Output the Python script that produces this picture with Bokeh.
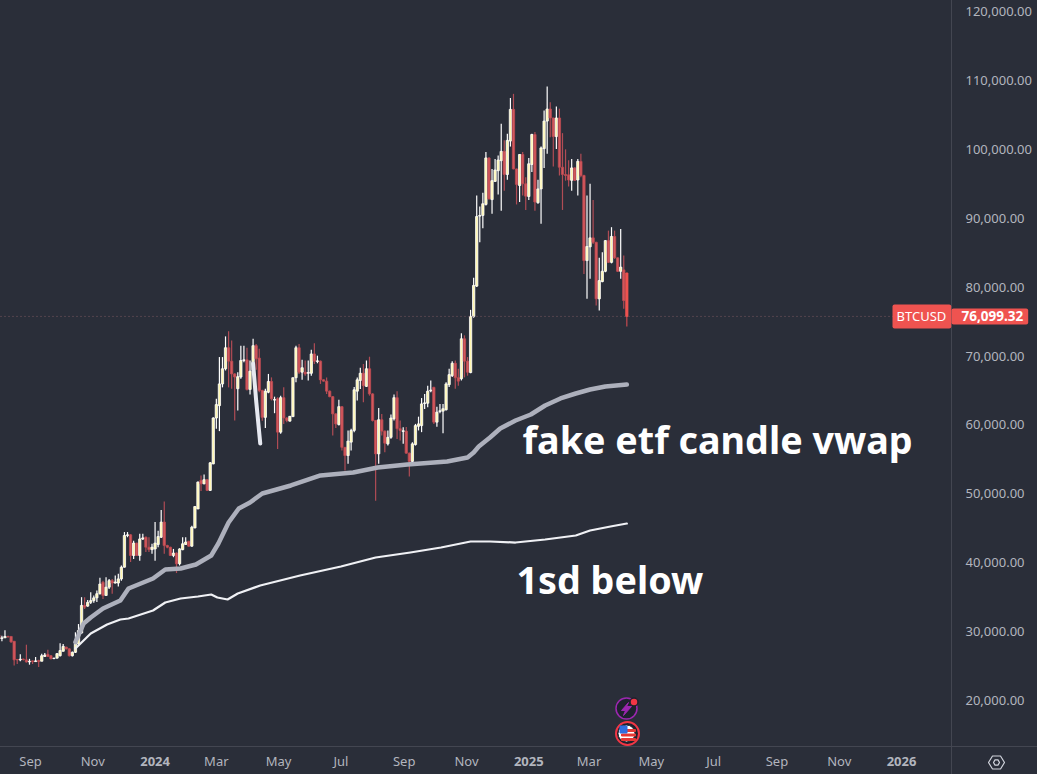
from bokeh.plotting import figure
from bokeh.embed import file_html
from bokeh.resources import INLINE
from bokeh.models import Range1d, FixedTicker, Label, LinearAxis, DatetimeAxis
from bokeh.core.properties import value
import numpy as np
import pandas as pd

# ---- chart values (thousand USD), 3-day candles -------------------------
opens = [29.5,29.0,29.1,29.3,29.3,28.6,25.95,25.9,26.0,25.9,
 25.6,25.75,25.65,25.8,25.7,26.4,26.7,26.5,26.1,26.15,
 26.5,27.15,27.75,27.5,26.5,27.0,28.2,29.8,33.8,33.7,
 34.25,34.5,34.9,35.5,37.15,35.25,36.45,37.4,37.05,37.05,
 37.65,39.35,43.95,44.05,41.05,42.85,41.05,43.45,43.7,42.25,
 41.9,42.0,42.65,43.7,45.9,42.5,42.25,41.05,41.4,39.85,
 41.9,42.65,43.1,42.4,45.05,47.8,51.95,51.45,52.05,50.5,
 54.35,61.0,62.8,65.95,68.15,71.2,69.25,67.4,65.25,66.95,
 69.35,69.45,65.15,67.9,71.5,69.7,65.0,61.1,64.75,66.3,
 63.6,63.8,58.95,63.95,61.0,60.55,61.2,66.85,71.2,67.65,
 67.65,67.5,67.5,70.3,69.2,69.25,66.55,66.35,64.9,64.1,
 61.6,60.05,62.65,56.75,55.55,57.5,59.2,64.9,66.45,67.5,
 65.6,68.15,64.5,60.65,55.8,60.75,59.1,57.25,58.2,60.9,
 63.95,59.45,59.05,59.1,55.9,54.7,57.15,59.8,59.9,63.1,
 63.15,64.95,65.45,60.4,61.95,62.0,62.2,65.85,67.15,68.95,
 66.85,66.7,72.5,69.25,67.6,75.75,80.15,90.3,90.4,92.0,
 98.75,92.7,95.35,96.9,98.35,99.7,96.35,101.2,105.8,97.15,
 94.75,99.25,95.0,93.15,97.8,102.15,92.25,94.25,100.1,104.1,
 105.85,104.55,101.85,104.55,97.4,96.35,96.3,95.5,97.3,95.55,
 98.25,96.2,83.85,85.85,87.15,86.5,78.3,80.8,82.3,86.75,
 83.6,87.35,84.25,82.3,82.5,82.05]
highs = [29.8,29.4,30.2,29.4,29.3,28.6,26.0,26.7,26.1,28.1,
 26.05,25.8,26.3,25.9,26.8,26.9,27.35,26.6,26.2,26.9,
 28.3,28.2,27.8,27.6,27.1,29.9,31.1,35.0,35.0,34.6,
 35.7,35.25,35.95,37.8,37.4,37.9,37.65,37.65,38.15,38.4,
 39.6,44.45,44.45,44.15,43.2,42.9,44.2,44.2,43.8,43.7,
 42.75,45.9,44.65,47.65,48.9,42.6,42.3,42.0,41.5,42.1,
 43.7,43.7,43.2,45.35,48.2,51.8,52.65,52.8,52.1,54.6,
 61.1,63.8,69.85,69.85,72.85,73.6,72.25,67.5,67.65,71.5,
 71.5,71.2,69.35,72.5,71.75,71.05,65.1,65.25,67.4,66.9,
 64.1,64.0,64.25,65.45,61.1,61.3,66.9,71.5,71.75,69.45,
 69.35,69.35,70.9,71.85,70.05,69.35,66.6,66.9,65.0,64.2,
 61.7,63.65,62.7,56.8,59.2,59.45,65.5,66.9,68.3,68.85,
 69.35,69.9,64.6,60.7,62.45,61.6,59.2,59.2,61.5,64.4,
 64.9,60.65,59.65,59.7,56.0,57.5,60.15,61.2,63.9,64.5,
 65.7,66.45,65.55,62.65,63.05,63.05,66.2,68.15,69.25,69.35,
 68.15,73.3,73.0,69.85,76.7,81.35,93.3,91.7,93.7,99.6,
 98.8,97.15,98.6,99.1,103.7,101.3,102.25,107.45,108.05,97.2,
 99.3,99.6,95.95,98.75,102.25,102.5,95.6,100.4,105.65,109.1,
 106.85,104.6,106.2,105.9,102.35,100.0,98.4,98.6,97.4,98.6,
 99.35,96.3,93.3,95.0,92.65,86.6,84.25,85.05,86.8,88.2,
 88.7,88.2,84.3,88.45,84.6,82.1]
lows = [28.7,28.6,29.1,29.1,28.4,25.1,25.3,25.7,25.8,25.5,
 25.2,25.3,25.6,24.85,25.7,26.3,26.3,26.0,26.0,26.1,
 26.4,27.1,27.4,26.4,26.4,26.9,28.1,29.7,33.3,33.6,
 34.0,34.2,34.3,35.4,34.75,35.2,36.2,35.5,37.0,36.55,
 37.4,39.3,43.7,40.1,40.55,41.0,40.3,43.3,41.55,41.55,
 41.3,40.3,42.25,43.6,41.3,42.1,41.0,40.8,38.5,39.6,
 41.8,42.6,42.3,42.3,45.0,47.8,50.4,51.4,50.4,50.4,
 54.3,59.45,59.1,65.45,67.9,65.45,65.25,60.65,62.1,66.7,
 69.1,65.0,64.4,67.8,68.0,64.75,60.6,59.55,64.6,63.55,
 61.7,56.5,58.7,60.15,60.4,60.5,61.2,66.2,67.4,66.55,
 67.15,66.45,67.15,68.85,68.95,65.95,66.3,64.5,64.0,58.45,
 59.55,59.9,56.3,53.4,54.35,56.3,58.95,63.55,65.2,63.3,
 65.5,64.25,60.5,49.0,54.35,58.45,56.05,57.0,58.0,60.65,
 57.95,57.75,57.25,55.8,52.5,54.6,57.0,59.2,58.95,62.3,
 62.55,64.75,60.15,59.75,61.7,58.8,62.1,65.5,66.95,65.25,
 65.7,66.45,66.9,67.15,67.5,75.55,80.0,86.5,88.55,91.85,
 92.7,90.65,95.25,93.45,91.1,94.0,95.6,100.4,97.1,92.0,
 92.35,93.3,91.2,92.65,96.7,91.1,92.1,89.2,97.3,99.35,
 101.75,97.5,100.05,96.2,91.2,95.45,94.6,94.0,95.4,93.3,
 95.95,81.9,78.3,81.2,86.25,77.35,76.6,80.7,82.15,83.5,
 83.45,84.1,82.2,81.2,76.85,74.3]
closes = [28.95,29.1,29.3,29.25,28.5,25.9,25.9,26.0,25.95,25.6,
 25.7,25.65,25.75,25.65,26.5,26.6,26.4,26.05,26.15,26.8,
 27.25,27.85,27.5,26.5,27.0,28.2,30.15,33.8,33.55,34.25,
 34.5,34.9,35.5,36.9,35.25,36.45,37.4,37.05,37.2,37.65,
 39.35,43.95,44.05,41.05,42.85,41.05,43.45,43.6,42.25,41.9,
 42.25,42.85,43.8,45.9,42.5,42.25,41.05,41.4,39.85,42.0,
 42.75,43.0,42.4,45.15,48.15,51.7,51.45,52.05,50.5,54.5,
 61.0,62.95,65.95,68.15,71.2,69.25,67.4,66.95,67.0,69.35,
 69.45,65.15,67.8,71.5,69.6,65.0,61.1,64.9,66.3,63.8,
 63.7,58.95,63.95,61.0,60.65,61.25,66.85,71.2,67.65,68.3,
 67.4,67.6,70.3,69.25,69.3,66.55,66.35,64.9,64.1,61.6,
 60.15,62.65,56.75,55.55,57.65,59.2,65.1,66.55,67.5,65.7,
 68.15,64.5,60.65,55.8,60.75,59.1,57.35,58.2,61.0,63.95,
 59.45,59.2,59.15,55.9,54.7,57.25,59.9,60.15,63.05,63.2,
 64.9,65.05,60.4,61.85,62.05,62.35,65.95,67.3,68.95,66.85,
 66.35,72.5,69.25,67.65,75.75,80.25,90.25,90.4,92.1,98.75,
 92.8,95.45,97.0,98.45,99.7,96.35,101.3,105.8,97.15,94.9,
 99.25,95.0,93.2,97.9,102.15,92.35,94.25,100.2,104.1,105.85,
 104.55,101.85,104.55,97.4,96.35,96.2,95.55,97.3,95.5,98.25,
 96.2,83.85,85.9,87.15,86.5,78.3,80.95,82.3,86.75,83.6,
 87.35,84.25,82.3,82.9,78.05,75.75]

vwap_dates = ["2023-10-15","2023-10-23","2023-10-30","2023-11-11","2023-11-28","2023-12-06","2023-12-18","2023-12-30",
 "2024-01-11","2024-01-26","2024-02-10","2024-02-25","2024-03-03","2024-03-13","2024-03-23","2024-04-03","2024-04-15",
 "2024-05-13","2024-06-11","2024-07-13","2024-08-06","2024-09-04","2024-10-13","2024-11-02","2024-11-08","2024-11-13",
 "2024-11-24","2024-12-04","2024-12-19","2025-01-03","2025-01-17","2025-02-01","2025-02-16","2025-03-02","2025-03-17","2025-04-07"]
vwap_vals = [28.46,31.18,32.05,33.36,34.52,36.26,36.98,37.71,39.01,39.16,39.74,41.05,42.79,45.84,47.87,48.74,50.05,
 51.21,52.66,53.09,53.82,54.25,54.69,55.27,56.0,56.87,58.17,59.48,60.64,61.51,62.82,63.84,64.56,65.14,65.58,65.87]

sd_dates = ["2023-10-15","2023-10-20","2023-10-30","2023-11-15","2023-11-28","2023-12-06","2023-12-30","2024-01-11",
 "2024-01-26","2024-02-12","2024-02-25","2024-03-02","2024-03-12","2024-03-22","2024-04-13","2024-05-22","2024-07-01",
 "2024-08-04","2024-09-07","2024-10-07","2024-11-05","2024-11-24","2024-12-19","2025-01-17","2025-02-16","2025-03-02","2025-03-22","2025-04-07"]
sd_vals = [27.55,28.27,29.73,31.03,31.76,31.9,33.06,34.23,34.81,35.1,35.39,34.95,34.66,35.53,36.69,38.15,39.45,
 40.76,41.48,42.21,43.08,43.08,42.93,43.37,43.95,44.67,45.26,45.69]

stroke_dates = ["2024-04-06", "2024-04-09", "2024-04-13"]
stroke_vals = [68.9, 63.5, 57.3]

last_price_level = 75.75
last_price_text = "76,099.32"
symbol = "BTCUSD"
y_ticks = [20,30,40,50,60,70,80,90,100,110,120]
month_ticks = ["2023-09-01","2023-11-01","2024-03-01","2024-05-01","2024-07-01","2024-09-01","2024-11-01",
               "2025-03-01","2025-05-01","2025-07-01","2025-09-01","2025-11-01"]
month_labels = ["Sep","Nov","Mar","May","Jul","Sep","Nov","Mar","May","Jul","Sep","Nov"]
year_ticks = ["2024-01-01","2025-01-01","2026-01-01"]
year_labels = ["2024","2025","2026"]

# ---- layout: the frame fills the canvas, the axes sit at fixed places in it --------
W, H, FW, FH = 1037, 774, 951, 746
BG, AXC, TXT = "#2a2e39", "#434651", "#b2b5be"
FONT = "Noto Sans"
PX_DAY = 1.0211
t0 = pd.Timestamp("2023-09-01") - pd.Timedelta(days=30/PX_DAY)
ms = lambda d: pd.Timestamp(d).value / 1e6
DAY = 86400000.0

def xp(px):  # pixel -> data, for decoration only
    return ms(t0) + px/PX_DAY*DAY
def yp(py):
    return 121.6 - 0.14514*py

p = figure(width=W+1, height=H+1, output_backend="svg", toolbar_location=None,
           x_axis_location=None, y_axis_location=None,
           x_range=Range1d(xp(-1), xp(W)), y_range=Range1d(yp(H), yp(-1)),
           background_fill_color=BG, border_fill_color=BG,
           min_border_left=0, min_border_top=0, min_border_right=0, min_border_bottom=0,
           outline_line_color=None)
p.margin = (-1, 0, 0, -1)
p.grid.visible = False

# axes
ya = LinearAxis(fixed_location=xp(FW), ticker=FixedTicker(ticks=y_ticks))
ya.major_label_overrides = {v: f"{v*1000:,.2f}" for v in y_ticks}
xa = DatetimeAxis(fixed_location=yp(FH))
tick_pos = [ms(d) for d in month_ticks]
xa.ticker = FixedTicker(ticks=tick_pos)
xa.major_label_overrides = {t: l for t, l in zip(tick_pos, month_labels)}
for ax, standoff in ((ya, 14), (xa, 5)):
    ax.axis_line_color = AXC
    ax.major_tick_line_color = None
    ax.minor_tick_line_color = None
    ax.major_tick_out = 0
    ax.major_tick_in = 0
    ax.minor_tick_out = 0
    ax.major_label_text_color = TXT
    ax.major_label_text_font = FONT
    ax.major_label_text_font_size = "13px"
    ax.major_label_standoff = standoff
p.add_layout(ya, "right")
p.add_layout(xa, "below")

p.text([ms(d) for d in year_ticks], [yp(760.5)]*3, text=year_labels, text_color=TXT, text_font=value(FONT),
       text_font_size="13px", text_font_style="bold", text_align="center", text_baseline="middle")

# candles
dates = pd.date_range(end="2025-04-07", periods=len(opens), freq="3D")
x = dates.values.astype("datetime64[ms]").astype(np.int64).astype(float)
o, h, l, c = map(np.array, (opens, highs, lows, closes))
up = c >= o
wick = ["#ffffff" if u else "#b04c55" for u in up]
fill = ["#fff7b0" if u else "#d4585c" for u in up]
line = ["#ffffff" if u else "#bb4a52" for u in up]
fill[-1] = "#f0524f"; line[-1] = "#ef5350"; wick[-1] = "#c44a50"
p.segment(x, h, x, l, color=wick, line_width=1.2)
p.vbar(x=x, top=np.maximum(o, c), bottom=np.minimum(o, c), width=2.3/PX_DAY*DAY,
       fill_color=fill, line_color=line, line_width=0.8)

# price line
p.line([xp(0), xp(FW)], [last_price_level]*2, line_color="#7d5a60", line_dash="1 3", line_width=1)

# hand-drawn lines
p.line(pd.to_datetime(vwap_dates), vwap_vals, line_color="#adb0bc", line_width=4.5, line_join="round", line_cap="round")
p.line(pd.to_datetime(sd_dates), sd_vals, line_color="#f0f1f5", line_width=2.2, line_join="round", line_cap="round")
p.line(pd.to_datetime(stroke_dates), stroke_vals, line_color="#e6e8f0", line_width=4, line_cap="round")

# annotations
p.text([xp(522)], [yp(439)], text=["fake etf candle vwap"], text_color="#ffffff", text_font=value(FONT),
       text_font_style="bold", text_font_size="37.7px", text_baseline="middle")
p.text([xp(516)], [yp(579)], text=["1sd below"], text_color="#ffffff", text_font=value(FONT),
       text_font_style="bold", text_font_size="37.7px", text_baseline="middle")

# price tags
p.add_layout(Label(x=893, x_units="screen", y=last_price_level, text=symbol, text_color="#ffffff", text_font=FONT,
                   text_font_size="13px", text_baseline="middle", background_fill_color="#ef5350",
                   padding=(4, 5, 3, 3), border_radius=2))
p.add_layout(Label(x=FW+1, x_units="screen", y=last_price_level, text=last_price_text, text_color="#ffffff", text_font=FONT,
                   text_font_size="13.5px", text_font_style="bold", text_baseline="middle", background_fill_color="#ef5350",
                   padding=(10, 5, 3, 3), border_radius=2))

# event icons
ex, ey, fy = xp(626), yp(708), yp(733)
p.scatter([ex], [ey], size=21, fill_color="#1e222d", line_color="#9c27b0", line_width=1.5)
p.patch([xp(a) for a in (628,621,625,623,631,626)], [yp(b) for b in (702,710,710,715,706,706)], color="#9c27b0")
p.scatter([xp(633.5)], [yp(701.5)], size=8, fill_color="#f23645", line_color="#1e222d", line_width=1.5)
p.scatter([xp(627)], [fy], size=23, fill_color="#1e222d", line_color="#f23645", line_width=2)
p.scatter([ex], [fy], size=17, fill_color="#ffffff", line_color="#1e222d", line_width=1)
for yy in (730, 734.5, 739):
    p.rect([xp(628)], [yp(yy)], width=14, height=2, width_units="screen", height_units="screen", color="#e53935")
p.rect([xp(623)], [yp(729)], width=7, height=7, width_units="screen", height_units="screen", color="#2f6fe0")

# settings gear
cx, cy = 996, 762
for rx, ry in ((8, 6.5), (3, 2.6)):
    p.patch([xp(cx-rx), xp(cx-rx/2), xp(cx+rx/2), xp(cx+rx), xp(cx+rx/2), xp(cx-rx/2)],
            [yp(cy), yp(cy-ry), yp(cy-ry), yp(cy), yp(cy+ry), yp(cy+ry)],
            fill_alpha=0, line_color="#d1d4dc", line_width=1.2)

open("out.html", "w").write(file_html(p, INLINE))
